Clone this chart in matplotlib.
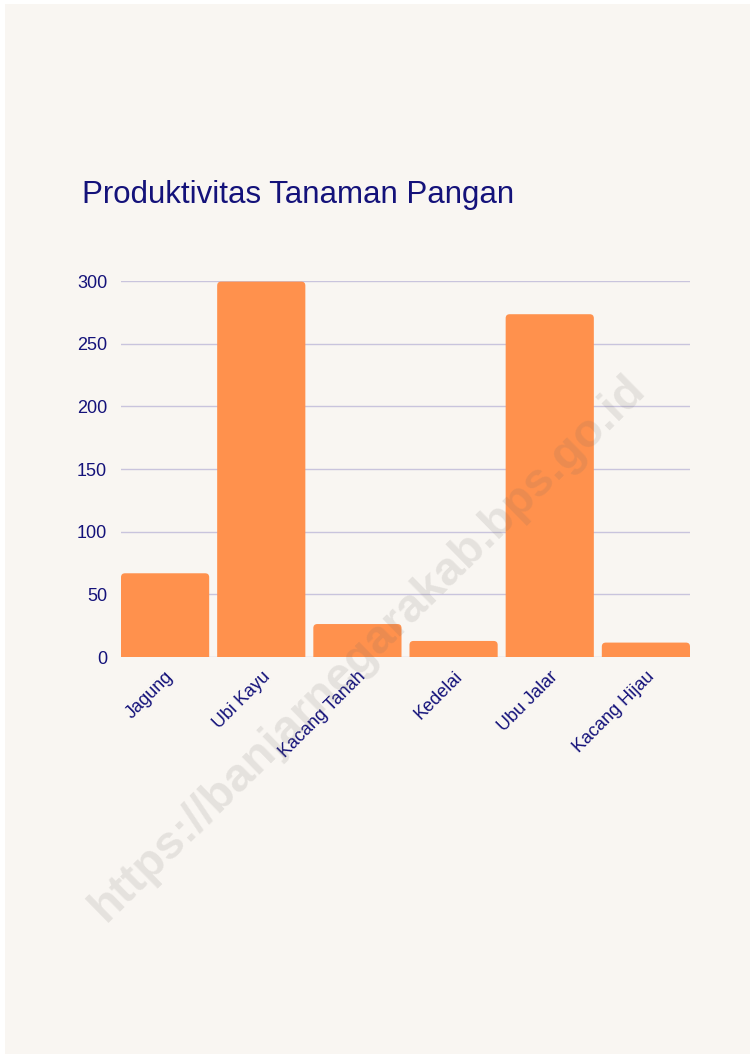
"""Bar chart of food crop productivity (Produktivitas Tanaman Pangan)."""

import matplotlib
matplotlib.use("Agg")
import matplotlib.pyplot as plt
from matplotlib.patches import FancyBboxPatch, Rectangle

CROPS = ["Jagung", "Ubi Kayu", "Kacang Tanah", "Kedelai", "Ubu Jalar", "Kacang Hijau"]
PRODUCTIVITY = [66.8, 299.5, 26.3, 12.8, 273.5, 11.5]
Y_TICKS = [0, 50, 100, 150, 200, 250, 300]

TITLE = "Produktivitas Tanaman Pangan"
WATERMARK = "https://banjarnegarakab.bps.go.id"

BACKGROUND = "#F9F6F2"
BAR_COLOUR = "#FF914D"
TEXT_COLOUR = "#14127A"
GRID_COLOUR = "#C9C4DD"

W_PX, H_PX = 755, 1058
BAR_WIDTH = 0.917


def main():
    plt.rcParams["font.family"] = ["Liberation Sans", "DejaVu Sans"]

    figure = plt.figure(figsize=(W_PX / 100, H_PX / 100), dpi=100, facecolor="white")
    figure.patches.append(Rectangle((5 / W_PX, 4 / H_PX), 745 / W_PX, 1050 / H_PX,
                                    transform=figure.transFigure, facecolor=BACKGROUND,
                                    edgecolor="none", zorder=-5))

    left, right, top, bottom = 121, 690, 281, 657
    axes = figure.add_axes([left / W_PX, 1 - bottom / H_PX,
                            (right - left) / W_PX, (bottom - top) / H_PX])
    axes.set_facecolor("none")

    positions = list(range(len(CROPS)))
    bars = axes.bar(positions, PRODUCTIVITY, width=BAR_WIDTH, color=BAR_COLOUR, zorder=2)
    x_lo, x_hi = -BAR_WIDTH / 2, len(CROPS) - 1 + BAR_WIDTH / 2
    axes.set_xlim(x_lo, x_hi)
    axes.set_ylim(0, 300)

    # swap the plain rectangles for ones with rounded top corners
    px_per_x = (right - left) / (x_hi - x_lo)
    px_per_y = (bottom - top) / 300
    radius = 4 / px_per_x
    aspect = px_per_x / px_per_y
    for bar in bars:
        bar.set_visible(False)
        rounded = FancyBboxPatch((bar.get_x(), -radius * aspect), bar.get_width(),
                                 bar.get_height() + radius * aspect,
                                 boxstyle=f"round,pad=0,rounding_size={radius}",
                                 mutation_aspect=aspect, facecolor=BAR_COLOUR,
                                 edgecolor="none", zorder=2, clip_on=True)
        axes.add_patch(rounded)

    axes.set_yticks(Y_TICKS)
    axes.set_yticklabels([str(t) for t in Y_TICKS])
    axes.yaxis.grid(True, color=GRID_COLOUR, linewidth=1, zorder=1)
    axes.set_axisbelow(True)
    axes.tick_params(axis="y", length=0, pad=10, labelsize=13, labelcolor=TEXT_COLOUR)
    axes.tick_params(axis="x", length=0, pad=8, labelsize=13, labelcolor=TEXT_COLOUR)
    axes.set_xticks(positions)
    axes.set_xticklabels(CROPS, rotation=45, ha="right", va="top", rotation_mode="anchor")
    for spine in axes.spines.values():
        spine.set_visible(False)

    figure.text(82 / W_PX, 1 - 203 / H_PX, TITLE, fontsize=22.5, color=TEXT_COLOUR,
                ha="left", va="baseline")

    figure.text(368 / W_PX, 1 - 648 / H_PX, WATERMARK, fontsize=34, fontweight="bold",
                color="#6E6A66", alpha=0.14, rotation=44.5, ha="center", va="center",
                rotation_mode="anchor", zorder=5)

    figure.savefig("out.png", dpi=100, facecolor=figure.get_facecolor())
    plt.close(figure)


if __name__ == "__main__":
    main()
